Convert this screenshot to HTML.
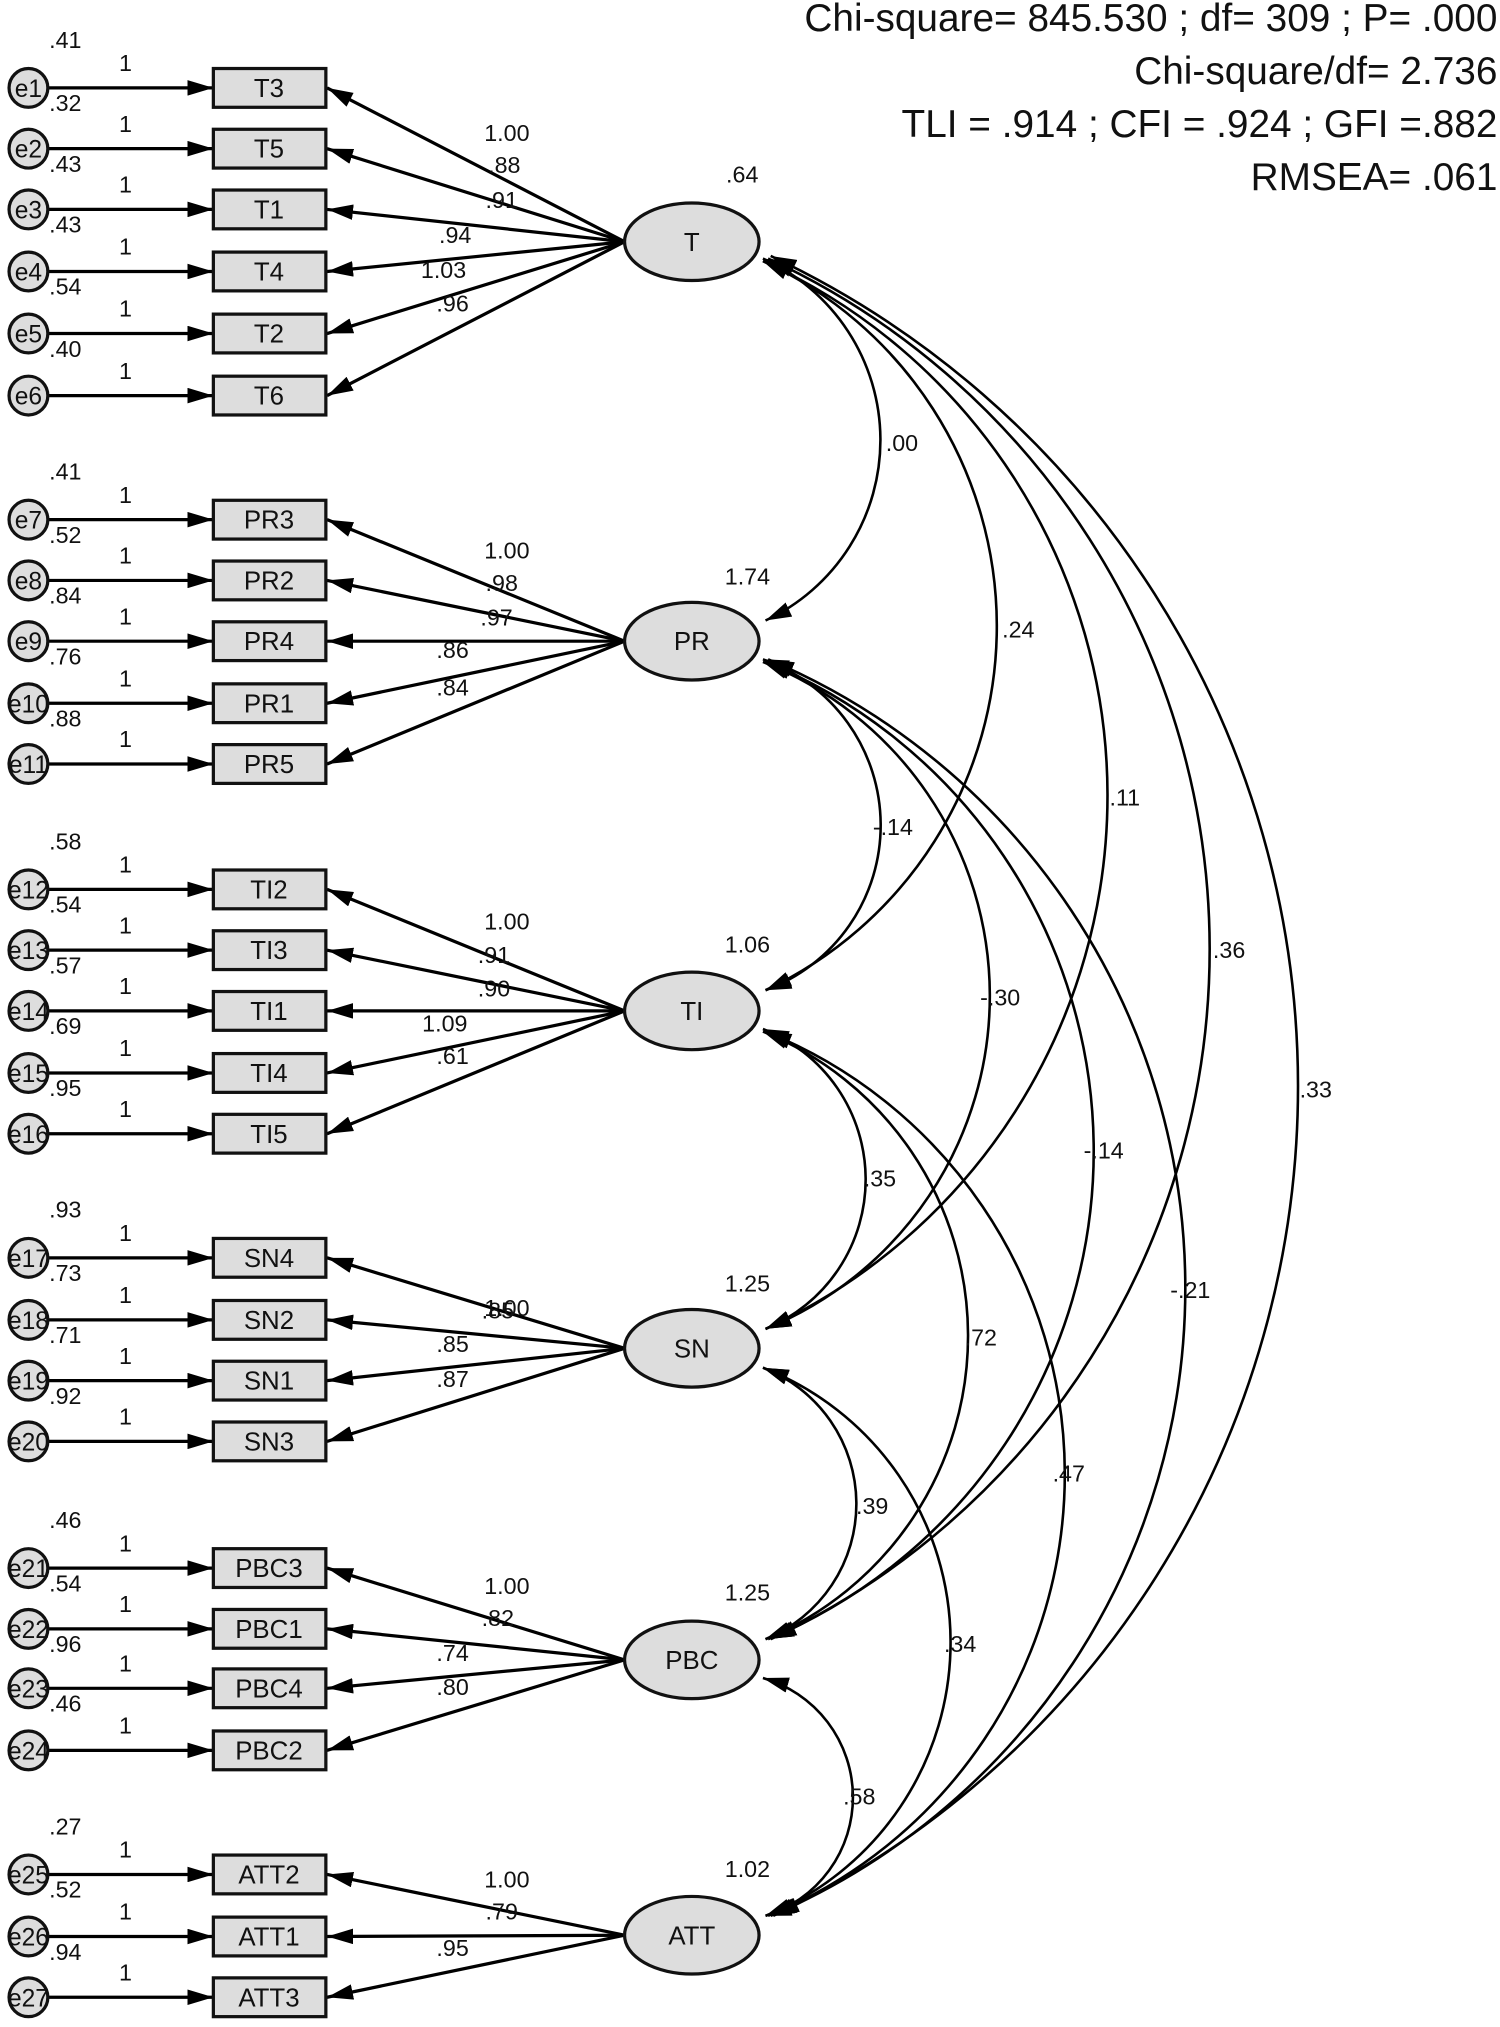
<!DOCTYPE html>
<html><head><meta charset="utf-8"><style>html,body{margin:0;padding:0;background:#fff}svg{display:block}</style></head><body>
<svg width="1500" height="2027" viewBox="0 0 1160 1568" preserveAspectRatio="none" xmlns="http://www.w3.org/2000/svg" font-family="Liberation Sans, sans-serif">
<defs>
<marker id="a" viewBox="0 0 20 12" refX="20" refY="6" markerWidth="20" markerHeight="12" markerUnits="userSpaceOnUse" orient="auto-start-reverse"><path d="M0,0 L20,6 L0,12 Z" fill="#000"/></marker>
</defs>
<g font-size="30" text-anchor="end" fill="#111">
<text x="1158" y="24">Chi-square= 845.530 ; df= 309 ; P= .000</text>
<text x="1158" y="65">Chi-square/df= 2.736</text>
<text x="1158" y="106">TLI = .914 ; CFI = .924 ; GFI =.882</text>
<text x="1158" y="147">RMSEA= .061</text>
</g>
<g fill="none" stroke="#000" stroke-width="2" marker-start="url(#a)" marker-end="url(#a)">
<path d="M590,200 A154,154 0 0 1 592,480"/>
<path d="M590,202 A311,311 0 0 1 592,766"/>
<path d="M590,202 A454,454 0 0 1 592,1028"/>
<path d="M594,200 A589,589 0 0 1 596,1268"/>
<path d="M596,198 A710,710 0 0 1 598,1482"/>
<path d="M590,510 A136,136 0 0 1 592,766"/>
<path d="M590,512 A278,278 0 0 1 592,1028"/>
<path d="M592,512 A409,409 0 0 1 594,1268"/>
<path d="M594,510 A528,528 0 0 1 596,1482"/>
<path d="M590,796 A125,125 0 0 1 592,1028"/>
<path d="M590,798 A254,254 0 0 1 592,1268"/>
<path d="M592,798 A369,369 0 0 1 594,1482"/>
<path d="M590,1058 A113,113 0 0 1 592,1268"/>
<path d="M590,1058 A228,228 0 0 1 592,1482"/>
<path d="M590,1298 A96,96 0 0 1 592,1482"/>
</g>
<g font-size="18" fill="#111">
<text x="685" y="349">.00</text><text x="775" y="493">.24</text><text x="858" y="623">.11</text>
<text x="938" y="741">.36</text><text x="1005" y="849">.33</text>
<text x="675" y="646">-.14</text><text x="758" y="778">-.30</text><text x="838" y="896">-.14</text><text x="905" y="1004">-.21</text>
<text x="668" y="918">.35</text><text x="746" y="1041">.72</text><text x="814" y="1146">.47</text>
<text x="662" y="1171">.39</text><text x="730" y="1278">.34</text><text x="652" y="1396">.58</text>
</g>
<g stroke="#000" stroke-width="2.5" fill="none">
<path marker-end="url(#a)" d="M37,68H165"/><path marker-end="url(#a)" d="M37,115H165"/><path marker-end="url(#a)" d="M37,162H165"/><path marker-end="url(#a)" d="M37,210H165"/><path marker-end="url(#a)" d="M37,258H165"/><path marker-end="url(#a)" d="M37,306H165"/>
<path marker-end="url(#a)" d="M37,402H165"/><path marker-end="url(#a)" d="M37,449H165"/><path marker-end="url(#a)" d="M37,496H165"/><path marker-end="url(#a)" d="M37,544H165"/><path marker-end="url(#a)" d="M37,591H165"/>
<path marker-end="url(#a)" d="M37,688H165"/><path marker-end="url(#a)" d="M37,735H165"/><path marker-end="url(#a)" d="M37,782H165"/><path marker-end="url(#a)" d="M37,830H165"/><path marker-end="url(#a)" d="M37,877H165"/>
<path marker-end="url(#a)" d="M37,973H165"/><path marker-end="url(#a)" d="M37,1021H165"/><path marker-end="url(#a)" d="M37,1068H165"/><path marker-end="url(#a)" d="M37,1115H165"/>
<path marker-end="url(#a)" d="M37,1213H165"/><path marker-end="url(#a)" d="M37,1260H165"/><path marker-end="url(#a)" d="M37,1306H165"/><path marker-end="url(#a)" d="M37,1354H165"/>
<path marker-end="url(#a)" d="M37,1450H165"/><path marker-end="url(#a)" d="M37,1498H165"/><path marker-end="url(#a)" d="M37,1545H165"/>
</g>
<g stroke="#000" stroke-width="2.5" fill="none">
<path marker-end="url(#a)" d="M483,187L253,68"/><path marker-end="url(#a)" d="M483,187L253,115"/><path marker-end="url(#a)" d="M483,187L253,162"/><path marker-end="url(#a)" d="M483,187L253,210"/><path marker-end="url(#a)" d="M483,187L253,258"/><path marker-end="url(#a)" d="M483,187L253,306"/>
<path marker-end="url(#a)" d="M483,496L253,402"/><path marker-end="url(#a)" d="M483,496L253,449"/><path marker-end="url(#a)" d="M483,496L253,496"/><path marker-end="url(#a)" d="M483,496L253,544"/><path marker-end="url(#a)" d="M483,496L253,591"/>
<path marker-end="url(#a)" d="M483,782L253,688"/><path marker-end="url(#a)" d="M483,782L253,735"/><path marker-end="url(#a)" d="M483,782L253,782"/><path marker-end="url(#a)" d="M483,782L253,830"/><path marker-end="url(#a)" d="M483,782L253,877"/>
<path marker-end="url(#a)" d="M483,1043L253,973"/><path marker-end="url(#a)" d="M483,1043L253,1021"/><path marker-end="url(#a)" d="M483,1043L253,1068"/><path marker-end="url(#a)" d="M483,1043L253,1115"/>
<path marker-end="url(#a)" d="M483,1284L253,1213"/><path marker-end="url(#a)" d="M483,1284L253,1260"/><path marker-end="url(#a)" d="M483,1284L253,1306"/><path marker-end="url(#a)" d="M483,1284L253,1354"/>
<path marker-end="url(#a)" d="M483,1497L253,1450"/><path marker-end="url(#a)" d="M483,1497L253,1498"/><path marker-end="url(#a)" d="M483,1497L253,1545"/>
</g>
<g fill="#ddd" stroke="#111" stroke-width="2.5">
<rect x="165" y="53" width="87" height="30"/><rect x="165" y="100" width="87" height="30"/><rect x="165" y="147" width="87" height="30"/><rect x="165" y="195" width="87" height="30"/><rect x="165" y="243" width="87" height="30"/><rect x="165" y="291" width="87" height="30"/>
<rect x="165" y="387" width="87" height="30"/><rect x="165" y="434" width="87" height="30"/><rect x="165" y="481" width="87" height="30"/><rect x="165" y="529" width="87" height="30"/><rect x="165" y="576" width="87" height="30"/>
<rect x="165" y="673" width="87" height="30"/><rect x="165" y="720" width="87" height="30"/><rect x="165" y="767" width="87" height="30"/><rect x="165" y="815" width="87" height="30"/><rect x="165" y="862" width="87" height="30"/>
<rect x="165" y="958" width="87" height="30"/><rect x="165" y="1006" width="87" height="30"/><rect x="165" y="1053" width="87" height="30"/><rect x="165" y="1100" width="87" height="30"/>
<rect x="165" y="1198" width="87" height="30"/><rect x="165" y="1245" width="87" height="30"/><rect x="165" y="1291" width="87" height="30"/><rect x="165" y="1339" width="87" height="30"/>
<rect x="165" y="1435" width="87" height="30"/><rect x="165" y="1483" width="87" height="30"/><rect x="165" y="1530" width="87" height="30"/>
</g>
<g fill="#ddd" stroke="#111" stroke-width="2.5">
<circle cx="22" cy="68" r="15"/><circle cx="22" cy="115" r="15"/><circle cx="22" cy="162" r="15"/><circle cx="22" cy="210" r="15"/><circle cx="22" cy="258" r="15"/><circle cx="22" cy="306" r="15"/>
<circle cx="22" cy="402" r="15"/><circle cx="22" cy="449" r="15"/><circle cx="22" cy="496" r="15"/><circle cx="22" cy="544" r="15"/><circle cx="22" cy="591" r="15"/>
<circle cx="22" cy="688" r="15"/><circle cx="22" cy="735" r="15"/><circle cx="22" cy="782" r="15"/><circle cx="22" cy="830" r="15"/><circle cx="22" cy="877" r="15"/>
<circle cx="22" cy="973" r="15"/><circle cx="22" cy="1021" r="15"/><circle cx="22" cy="1068" r="15"/><circle cx="22" cy="1115" r="15"/>
<circle cx="22" cy="1213" r="15"/><circle cx="22" cy="1260" r="15"/><circle cx="22" cy="1306" r="15"/><circle cx="22" cy="1354" r="15"/>
<circle cx="22" cy="1450" r="15"/><circle cx="22" cy="1498" r="15"/><circle cx="22" cy="1545" r="15"/>
</g>
<g fill="#ddd" stroke="#111" stroke-width="2.5">
<ellipse cx="535" cy="187" rx="52" ry="30"/><ellipse cx="535" cy="496" rx="52" ry="30"/><ellipse cx="535" cy="782" rx="52" ry="30"/>
<ellipse cx="535" cy="1043" rx="52" ry="30"/><ellipse cx="535" cy="1284" rx="52" ry="30"/><ellipse cx="535" cy="1497" rx="52" ry="30"/>
</g>
<g font-size="20" text-anchor="middle" fill="#111">
<text x="535" y="194">T</text><text x="535" y="503">PR</text><text x="535" y="789">TI</text><text x="535" y="1050">SN</text><text x="535" y="1291">PBC</text><text x="535" y="1504">ATT</text>
<text x="208" y="75">T3</text><text x="208" y="122">T5</text><text x="208" y="169">T1</text><text x="208" y="217">T4</text><text x="208" y="265">T2</text><text x="208" y="313">T6</text>
<text x="208" y="409">PR3</text><text x="208" y="456">PR2</text><text x="208" y="503">PR4</text><text x="208" y="551">PR1</text><text x="208" y="598">PR5</text>
<text x="208" y="695">TI2</text><text x="208" y="742">TI3</text><text x="208" y="789">TI1</text><text x="208" y="837">TI4</text><text x="208" y="884">TI5</text>
<text x="208" y="980">SN4</text><text x="208" y="1028">SN2</text><text x="208" y="1075">SN1</text><text x="208" y="1122">SN3</text>
<text x="208" y="1220">PBC3</text><text x="208" y="1267">PBC1</text><text x="208" y="1313">PBC4</text><text x="208" y="1361">PBC2</text>
<text x="208" y="1457">ATT2</text><text x="208" y="1505">ATT1</text><text x="208" y="1552">ATT3</text>
</g>
<g font-size="19" text-anchor="middle" fill="#111">
<text x="22" y="75">e1</text><text x="22" y="122">e2</text><text x="22" y="169">e3</text><text x="22" y="217">e4</text><text x="22" y="265">e5</text><text x="22" y="313">e6</text>
<text x="22" y="409">e7</text><text x="22" y="456">e8</text><text x="22" y="503">e9</text><text x="22" y="551">e10</text><text x="22" y="598">e11</text>
<text x="22" y="695">e12</text><text x="22" y="742">e13</text><text x="22" y="789">e14</text><text x="22" y="837">e15</text><text x="22" y="884">e16</text>
<text x="22" y="980">e17</text><text x="22" y="1028">e18</text><text x="22" y="1075">e19</text><text x="22" y="1122">e20</text>
<text x="22" y="1220">e21</text><text x="22" y="1267">e22</text><text x="22" y="1313">e23</text><text x="22" y="1361">e24</text>
<text x="22" y="1457">e25</text><text x="22" y="1505">e26</text><text x="22" y="1552">e27</text>
</g>
<g font-size="18" fill="#111">
<g text-anchor="middle">
<text x="97" y="55">1</text><text x="97" y="102">1</text><text x="97" y="149">1</text><text x="97" y="197">1</text><text x="97" y="245">1</text><text x="97" y="293">1</text>
<text x="97" y="389">1</text><text x="97" y="436">1</text><text x="97" y="483">1</text><text x="97" y="531">1</text><text x="97" y="578">1</text>
<text x="97" y="675">1</text><text x="97" y="722">1</text><text x="97" y="769">1</text><text x="97" y="817">1</text><text x="97" y="864">1</text>
<text x="97" y="960">1</text><text x="97" y="1008">1</text><text x="97" y="1055">1</text><text x="97" y="1102">1</text>
<text x="97" y="1200">1</text><text x="97" y="1247">1</text><text x="97" y="1293">1</text><text x="97" y="1341">1</text>
<text x="97" y="1437">1</text><text x="97" y="1485">1</text><text x="97" y="1532">1</text>
</g>
<text x="38" y="37">.41</text><text x="38" y="86">.32</text><text x="38" y="133">.43</text><text x="38" y="180">.43</text><text x="38" y="228">.54</text><text x="38" y="276">.40</text>
<text x="38" y="371">.41</text><text x="38" y="420">.52</text><text x="38" y="467">.84</text><text x="38" y="514">.76</text><text x="38" y="562">.88</text>
<text x="38" y="657">.58</text><text x="38" y="706">.54</text><text x="38" y="753">.57</text><text x="38" y="800">.69</text><text x="38" y="848">.95</text>
<text x="38" y="942">.93</text><text x="38" y="991">.73</text><text x="38" y="1039">.71</text><text x="38" y="1086">.92</text>
<text x="38" y="1182">.46</text><text x="38" y="1231">.54</text><text x="38" y="1278">.96</text><text x="38" y="1324">.46</text>
<text x="38" y="1419">.27</text><text x="38" y="1468">.52</text><text x="38" y="1516">.94</text>
<g text-anchor="middle">
<text x="392" y="109">1.00</text><text x="390" y="134">.88</text><text x="388" y="161">.91</text><text x="352" y="188">.94</text><text x="343" y="215">1.03</text><text x="350" y="241">.96</text>
<text x="392" y="432">1.00</text><text x="388" y="457">.98</text><text x="384" y="484">.97</text><text x="350" y="509">.86</text><text x="350" y="538">.84</text>
<text x="392" y="719">1.00</text><text x="382" y="745">.91</text><text x="382" y="771">.90</text><text x="344" y="798">1.09</text><text x="350" y="823">.61</text>
<text x="392" y="1018">1.00</text><text x="385" y="1020">.85</text><text x="350" y="1046">.85</text><text x="350" y="1073">.87</text>
<text x="392" y="1233">1.00</text><text x="385" y="1258">.82</text><text x="350" y="1285">.74</text><text x="350" y="1311">.80</text>
<text x="392" y="1460">1.00</text><text x="388" y="1485">.79</text><text x="350" y="1513">.95</text>
</g>
<g text-anchor="middle">
<text x="574" y="141">.64</text><text x="578" y="452">1.74</text><text x="578" y="737">1.06</text><text x="578" y="999">1.25</text><text x="578" y="1238">1.25</text><text x="578" y="1452">1.02</text>
</g>
</g>
</svg>
</body></html>
